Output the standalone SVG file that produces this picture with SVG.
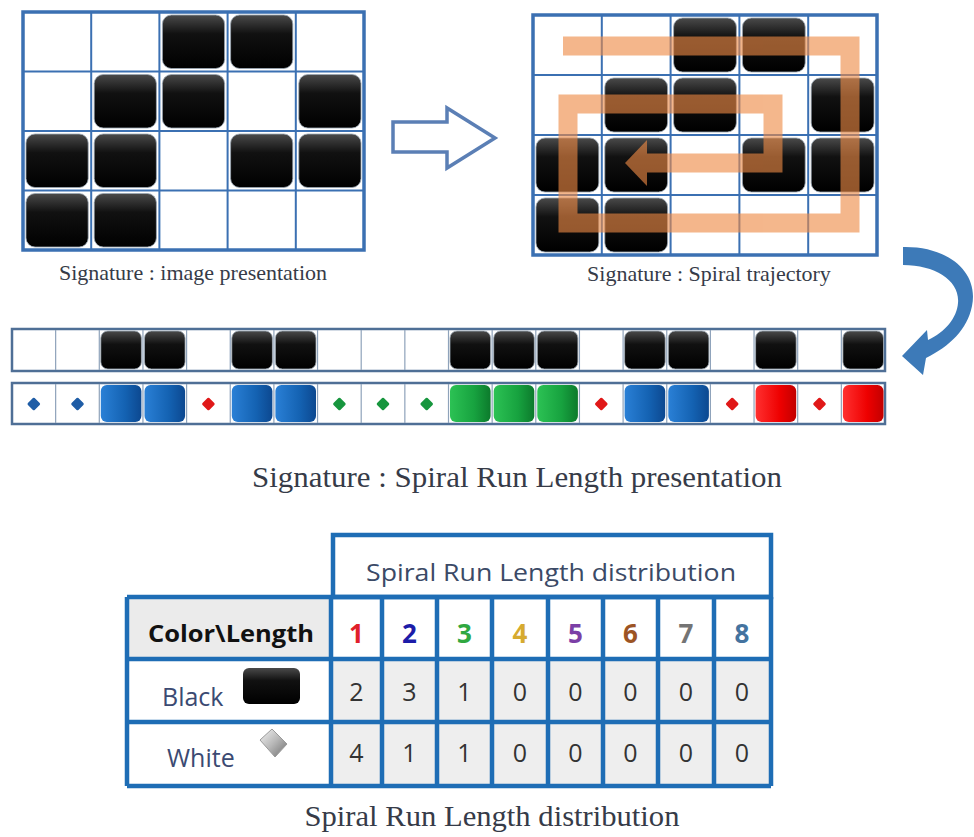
<svg xmlns="http://www.w3.org/2000/svg" xmlns:xlink="http://www.w3.org/1999/xlink" width="974" height="837" viewBox="0 0 974 837">
<defs>
<style>
.cap{font-family:"Liberation Serif","Times New Roman",serif;fill:#363b48}
.tf{font-family:"Open Sans","Noto Sans",sans-serif}
.grid{fill:none;stroke:#3b70b2;stroke-width:2}
.gframe{fill:none;stroke:#3b70b2;stroke-width:3.5}
.tile{fill:url(#tileG);stroke:#9aa7b4;stroke-width:0.8}
.stile{fill:url(#tileG);stroke:#9aa7b4;stroke-width:0.8}
.sline{stroke:#8fa3bb;stroke-width:1.2}
.sframe{fill:#fff;stroke:#4f6f96;stroke-width:2.5}
.bsq{fill:url(#blueG)}
.gsq{fill:url(#greenG)}
.rsq{fill:url(#redG)}
.db{fill:#1f5da6;stroke:#1f5da6}
.dr{fill:#e01818;stroke:#e01818}
.dg{fill:#17963e;stroke:#17963e}
.tl{stroke:#1e6db5;stroke-width:4.5;fill:none}
.num{font-size:26px;font-weight:bold;text-anchor:middle}
.val{font-size:25px;fill:#333;text-anchor:middle}
</style>
<linearGradient id="tileG" x1="0" y1="0" x2="0" y2="1">
<stop offset="0" stop-color="#4a4a4a"/><stop offset="0.35" stop-color="#111"/><stop offset="1" stop-color="#000"/>
</linearGradient>
<linearGradient id="blueG" x1="0" y1="0" x2="1" y2="0">
<stop offset="0" stop-color="#2a80d6"/><stop offset="0.6" stop-color="#1462b2"/><stop offset="1" stop-color="#0c4890"/>
</linearGradient>
<linearGradient id="greenG" x1="0" y1="0" x2="1" y2="0">
<stop offset="0" stop-color="#2cc254"/><stop offset="0.6" stop-color="#17a23f"/><stop offset="1" stop-color="#0c7a2c"/>
</linearGradient>
<linearGradient id="redG" x1="0" y1="0" x2="1" y2="0">
<stop offset="0" stop-color="#ff3030"/><stop offset="0.6" stop-color="#ee0000"/><stop offset="1" stop-color="#c20000"/>
</linearGradient>
<linearGradient id="silverG" x1="0" y1="0" x2="1" y2="1">
<stop offset="0" stop-color="#f4f4f4"/><stop offset="0.5" stop-color="#b8b8b8"/><stop offset="1" stop-color="#6e6e6e"/>
</linearGradient>
<path id="dm" d="M0,-5 L5,0 L0,5 L-5,0Z" stroke-width="2.5" stroke-linejoin="round"/>
</defs>
<rect width="974" height="837" fill="#fff"/>

<g id="grid-image">
<rect class="tile" x="162.4" y="15" width="62.2" height="53.5" rx="9"/>
<rect class="tile" x="230.6" y="15" width="62.2" height="53.5" rx="9"/>
<rect class="tile" x="94.2" y="74.5" width="62.2" height="53.5" rx="9"/>
<rect class="tile" x="162.4" y="74.5" width="62.2" height="53.5" rx="9"/>
<rect class="tile" x="298.8" y="74.5" width="62.2" height="53.5" rx="9"/>
<rect class="tile" x="26" y="134" width="62.2" height="53.5" rx="9"/>
<rect class="tile" x="94.2" y="134" width="62.2" height="53.5" rx="9"/>
<rect class="tile" x="230.6" y="134" width="62.2" height="53.5" rx="9"/>
<rect class="tile" x="298.8" y="134" width="62.2" height="53.5" rx="9"/>
<rect class="tile" x="26" y="193.5" width="62.2" height="53.5" rx="9"/>
<rect class="tile" x="94.2" y="193.5" width="62.2" height="53.5" rx="9"/>
<path class="grid" d="M91.2,12V250M159.4,12V250M227.6,12V250M295.8,12V250M23,71.5H364M23,131H364M23,190.5H364"/>
<rect class="gframe" x="23" y="12" width="341" height="238"/>
<text class="cap" x="193" y="280" font-size="22" text-anchor="middle">Signature : image presentation</text>
</g>

<g id="grid-spiral">
<rect class="tile" x="673.6" y="18" width="62.8" height="54" rx="9"/>
<rect class="tile" x="742.4" y="18" width="62.8" height="54" rx="9"/>
<rect class="tile" x="604.8" y="78" width="62.8" height="54" rx="9"/>
<rect class="tile" x="673.6" y="78" width="62.8" height="54" rx="9"/>
<rect class="tile" x="811.2" y="78" width="62.8" height="54" rx="9"/>
<rect class="tile" x="536" y="138" width="62.8" height="54" rx="9"/>
<rect class="tile" x="604.8" y="138" width="62.8" height="54" rx="9"/>
<rect class="tile" x="742.4" y="138" width="62.8" height="54" rx="9"/>
<rect class="tile" x="811.2" y="138" width="62.8" height="54" rx="9"/>
<rect class="tile" x="536" y="198" width="62.8" height="54" rx="9"/>
<rect class="tile" x="604.8" y="198" width="62.8" height="54" rx="9"/>
<path class="grid" d="M601.8,15V255M670.6,15V255M739.4,15V255M808.2,15V255M533,75H877M533,135H877M533,195H877"/>
<rect class="gframe" x="533" y="15" width="344" height="240"/>
<g id="spiral" opacity="0.62">
<path d="M563,46H850V223H568V104H773V163H647" fill="none" stroke="#ee8a45" stroke-width="19" stroke-linejoin="miter"/>
<polygon points="647,140 625,163 647,186" fill="#ee8a45"/>
</g>
<text class="cap" x="709" y="281" font-size="22" text-anchor="middle">Signature : Spiral trajectory</text>
</g>

<g id="connectors">
<polygon id="arrow-right" points="393,122 447,122 447,108 495,138 447,168 447,152 393,152" fill="#fff" stroke="#5b7fb5" stroke-width="3.5" stroke-linejoin="miter"/>
<path id="arrow-curved" d="M903,247 C948,246 979,272 972,306 C967,330 950,346 926,358 L923,375 L902,356 L927,330 L928,340 C945,332 957,318 958,303 C960,281 936,265 903,265 Z" fill="#3d7ab8"/>
</g>

<g id="strip-binary">
<rect class="sframe" x="12" y="329" width="873" height="42"/>
<path class="sline" d="M55.65,330V370M99.3,330V370M142.95,330V370M186.6,330V370M230.25,330V370M273.9,330V370M317.55,330V370M361.2,330V370M404.85,330V370M448.5,330V370M492.15,330V370M535.8,330V370M579.45,330V370M623.1,330V370M666.75,330V370M710.4,330V370M754.05,330V370M797.7,330V370M841.35,330V370"/>
<rect class="stile" x="100.8" y="331" width="40.6" height="38" rx="7"/>
<rect class="stile" x="144.5" y="331" width="40.6" height="38" rx="7"/>
<rect class="stile" x="231.8" y="331" width="40.6" height="38" rx="7"/>
<rect class="stile" x="275.4" y="331" width="40.6" height="38" rx="7"/>
<rect class="stile" x="450" y="331" width="40.6" height="38" rx="7"/>
<rect class="stile" x="493.7" y="331" width="40.6" height="38" rx="7"/>
<rect class="stile" x="537.3" y="331" width="40.6" height="38" rx="7"/>
<rect class="stile" x="624.6" y="331" width="40.6" height="38" rx="7"/>
<rect class="stile" x="668.3" y="331" width="40.6" height="38" rx="7"/>
<rect class="stile" x="755.6" y="331" width="40.6" height="38" rx="7"/>
<rect class="stile" x="842.9" y="331" width="40.6" height="38" rx="7"/>
</g>

<g id="strip-runlength">
<rect class="sframe" x="12" y="383" width="873" height="41"/>
<path class="sline" d="M55.65,384V423M99.3,384V423M142.95,384V423M186.6,384V423M230.25,384V423M273.9,384V423M317.55,384V423M361.2,384V423M404.85,384V423M448.5,384V423M492.15,384V423M535.8,384V423M579.45,384V423M623.1,384V423M666.75,384V423M710.4,384V423M754.05,384V423M797.7,384V423M841.35,384V423"/>
<rect class="bsq" x="100.8" y="385" width="40.6" height="37" rx="6"/>
<rect class="bsq" x="144.5" y="385" width="40.6" height="37" rx="6"/>
<rect class="bsq" x="231.8" y="385" width="40.6" height="37" rx="6"/>
<rect class="bsq" x="275.4" y="385" width="40.6" height="37" rx="6"/>
<rect class="gsq" x="450" y="385" width="40.6" height="37" rx="6"/>
<rect class="gsq" x="493.7" y="385" width="40.6" height="37" rx="6"/>
<rect class="gsq" x="537.3" y="385" width="40.6" height="37" rx="6"/>
<rect class="bsq" x="624.6" y="385" width="40.6" height="37" rx="6"/>
<rect class="bsq" x="668.3" y="385" width="40.6" height="37" rx="6"/>
<rect class="rsq" x="755.6" y="385" width="40.6" height="37" rx="6"/>
<rect class="rsq" x="842.9" y="385" width="40.6" height="37" rx="6"/>
<use xlink:href="#dm" class="db" x="33.8" y="404"/>
<use xlink:href="#dm" class="db" x="77.5" y="404"/>
<use xlink:href="#dm" class="dr" x="208.4" y="404"/>
<use xlink:href="#dm" class="dg" x="339.4" y="404"/>
<use xlink:href="#dm" class="dg" x="383" y="404"/>
<use xlink:href="#dm" class="dg" x="426.7" y="404"/>
<use xlink:href="#dm" class="dr" x="601.3" y="404"/>
<use xlink:href="#dm" class="dr" x="732.2" y="404"/>
<use xlink:href="#dm" class="dr" x="819.5" y="404"/>
</g>

<text class="cap" x="517" y="487" font-size="29" text-anchor="middle" textLength="530" lengthAdjust="spacingAndGlyphs">Signature : Spiral Run Length presentation</text>

<g id="table">
<rect x="333" y="535" width="438" height="62" fill="#fff"/>
<rect x="127" y="597" width="204" height="62" fill="#ebebeb"/>
<rect x="331" y="597" width="440" height="62" fill="#fff"/>
<rect x="127" y="659" width="204" height="127" fill="#fff"/>
<rect x="331" y="659" width="440" height="127" fill="#eeeeee"/>
<rect class="tl" x="333" y="535" width="438" height="62"/>
<path class="tl" d="M127,597H771M127,659H771M127,722H771M127,786H771M127,597V786M331,597V786M382,597V786M437,597V786M492,597V786M548,597V786M603,597V786M658,597V786M714,597V786M771,597V786"/>
<text class="tf" x="551" y="581" font-size="24" fill="#3b4a66" text-anchor="middle" textLength="370" lengthAdjust="spacingAndGlyphs">Spiral Run Length distribution</text>
<text class="tf" x="231" y="642" font-size="24" font-weight="bold" fill="#111" text-anchor="middle" textLength="166" lengthAdjust="spacingAndGlyphs">Color\Length</text>
<g class="tf">
<text class="num" x="356.5" y="643" fill="#e0202a">1</text>
<text class="num" x="409.5" y="643" fill="#1c1ca8">2</text>
<text class="num" x="464.5" y="643" fill="#30a840">3</text>
<text class="num" x="520" y="643" fill="#d6aa30">4</text>
<text class="num" x="575.5" y="643" fill="#7b3fa6">5</text>
<text class="num" x="630.5" y="643" fill="#9c5424">6</text>
<text class="num" x="686" y="643" fill="#747474">7</text>
<text class="num" x="742" y="643" fill="#44739f">8</text>
<text class="val" x="356.5" y="701">2</text>
<text class="val" x="409.5" y="701">3</text>
<text class="val" x="464.5" y="701">1</text>
<text class="val" x="520" y="701">0</text>
<text class="val" x="575.5" y="701">0</text>
<text class="val" x="630.5" y="701">0</text>
<text class="val" x="686" y="701">0</text>
<text class="val" x="742" y="701">0</text>
<text class="val" x="356.5" y="762">4</text>
<text class="val" x="409.5" y="762">1</text>
<text class="val" x="464.5" y="762">1</text>
<text class="val" x="520" y="762">0</text>
<text class="val" x="575.5" y="762">0</text>
<text class="val" x="630.5" y="762">0</text>
<text class="val" x="686" y="762">0</text>
<text class="val" x="742" y="762">0</text>
</g>
<text class="tf" x="162" y="706" font-size="25" fill="#3b4a72">Black</text>
<rect x="243" y="668" width="57" height="36" rx="6" fill="url(#tileG)"/>
<text class="tf" x="167" y="767" font-size="25" fill="#3b4a72">White</text>
<path d="M260,740 L272,729 L287,744 L275,757 Z" fill="url(#silverG)" stroke="#9a9a9a" stroke-width="1" stroke-linejoin="round"/>
</g>

<text class="cap" x="492" y="826" font-size="29" text-anchor="middle" textLength="375" lengthAdjust="spacingAndGlyphs">Spiral Run Length distribution</text>
</svg>
